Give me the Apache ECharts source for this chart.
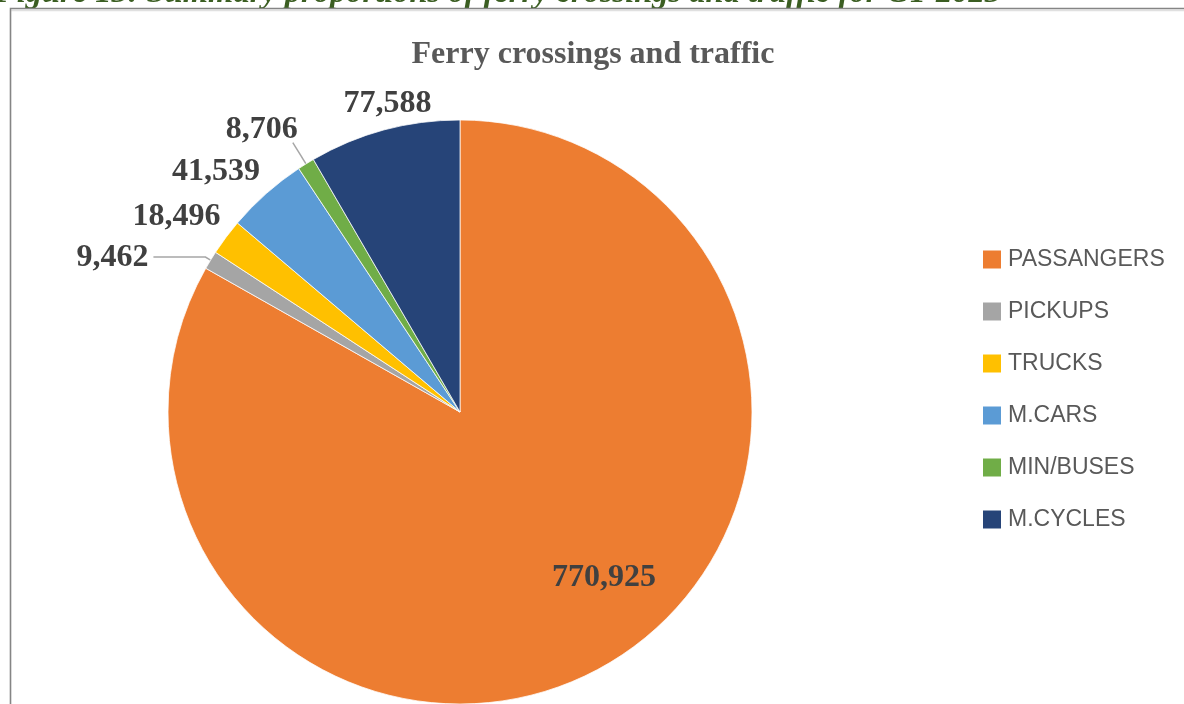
<!DOCTYPE html>
<html>
<head>
<meta charset="utf-8">
<title>Ferry crossings and traffic</title>
<script src="https://cdn.jsdelivr.net/npm/echarts@6/dist/echarts.min.js"></script>
<style>
  html, body { margin: 0; padding: 0; background: #ffffff; }
  #chart { width: 1184px; height: 704px; }
</style>
</head>
<body>
<div id="chart"></div>
<script>
// data
const categories = ["PASSANGERS", "PICKUPS", "TRUCKS", "M.CARS", "MIN/BUSES", "M.CYCLES"];
const values = [770925, 9462, 18496, 41539, 8706, 77588];
const colors = ["#ED7D31", "#A5A5A5", "#FFC000", "#5B9BD5", "#70AD47", "#264478"];

// label tweaks per slice (leader length, second length, gap to line, show line)
const labelCfg = [
  { inside: true },
  { len: 6, len2: 52, dist: 5, line: true },
  { len: 37, len2: 0, dist: -24, line: false },
  { len: 32, len2: 0, dist: -15, line: false },
  { len: 25, len2: 0, dist: -5, line: true },
  { len: 29, len2: 0, dist: -55, line: false }
];
// small label nudges (px)
const labelNudge = [[69, 37], [0, 1], [0, 2], [0, 2], [0, -13], [0, 2]];

const pieData = categories.map(function (name, i) {
  const cfg = labelCfg[i];
  const item = {
    name: name,
    value: values[i],
    itemStyle: { color: colors[i] }
  };
  if (cfg.inside) {
    item.label = { position: "inside" };
    item.labelLine = { show: false };
  } else {
    item.label = { position: "outside", distanceToLabelLine: cfg.dist };
    item.labelLine = { show: cfg.line, length: cfg.len, length2: cfg.len2 };
  }
  return item;
});

const chart = echarts.init(document.getElementById("chart"));
const option = {
  backgroundColor: "#ffffff",
  animation: false,
  title: {
    text: "Ferry crossings and traffic",
    left: 588,
    top: 34,
    textAlign: "center",
    textStyle: {
      fontFamily: "Liberation Serif",
      fontWeight: "bold",
      fontSize: 32,
      color: "#595959"
    }
  },
  legend: {
    orient: "vertical",
    left: 983,
    top: 248,
    padding: 0,
    itemWidth: 18,
    itemHeight: 18,
    itemGap: 29,
    icon: "rect",
    data: categories,
    itemStyle: { borderWidth: 0 },
    textStyle: {
      fontFamily: "Liberation Sans",
      fontSize: 23,
      color: "#595959",
      padding: [0, 0, 0, 2]
    }
  },
  graphic: [
    {
      type: "text",
      left: -5,
      top: -23,
      style: {
        text: "Figure 13: Summary proportions of ferry crossings and traffic for CY 2023",
        font: "italic bold 32.5px 'Liberation Serif'",
        fill: "#3b5e22"
      }
    },
    {
      type: "rect",
      shape: { x: 10.5, y: 10.5, width: 1300, height: 1000 },
      style: { fill: "none", stroke: "#e0e0e0", lineWidth: 1.5 }
    },
    {
      type: "rect",
      shape: { x: 10.5, y: 8.5, width: 1300, height: 1000 },
      style: { fill: "none", stroke: "#858585", lineWidth: 1.5 }
    }
  ],
  series: [
    {
      type: "pie",
      center: [460, 412],
      radius: 292,
      startAngle: 90,
      clockwise: true,
      avoidLabelOverlap: false,
      data: pieData,
      itemStyle: { borderColor: "#ffffff", borderWidth: 0.75 },
      label: {
        formatter: function (p) { return p.value.toLocaleString("en-US"); },
        fontFamily: "Liberation Serif",
        fontWeight: "bold",
        fontSize: 32,
        color: "#404040"
      },
      labelLine: {
        lineStyle: { color: "#A6A6A6", width: 1.5 }
      },
      labelLayout: function (params) {
        const n = labelNudge[params.dataIndex];
        return { dx: n[0], dy: n[1] };
      },
      emphasis: { disabled: true }
    }
  ]
};
chart.setOption(option);
window.addEventListener("resize", function () {
  chart.resize();
});
</script>
</body>
</html>
